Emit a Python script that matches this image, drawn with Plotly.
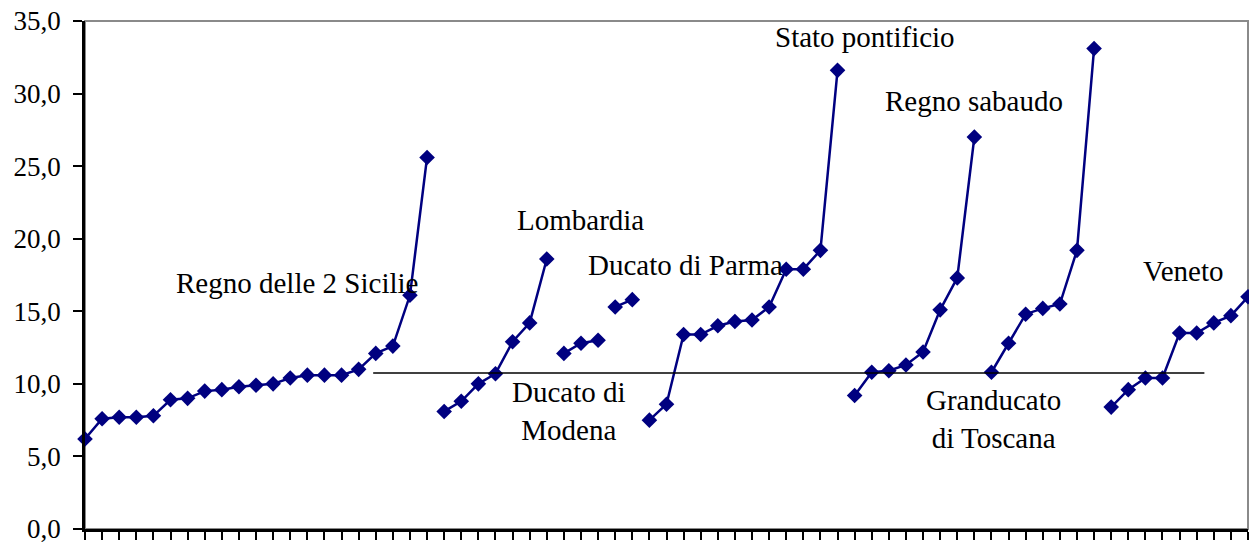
import plotly.graph_objects as go

# ---- data ----
state_labels = ["Regno delle 2 Sicilie", "Lombardia", "Ducato di<br>Modena", "Ducato di Parma",
                "Stato pontificio", "Regno sabaudo", "Granducato<br>di Toscana", "Veneto"]
regno_2_sicilie = [6.2, 7.6, 7.7, 7.7, 7.8, 8.9, 9.0, 9.5, 9.6, 9.8, 9.9, 10.0, 10.4, 10.6, 10.6,
                   10.6, 11.0, 12.1, 12.6, 16.1, 25.6]
lombardia = [8.1, 8.8, 10.0, 10.7, 12.9, 14.2, 18.6]
ducato_modena = [12.1, 12.8, 13.0]
ducato_parma = [15.3, 15.8]
stato_pontificio = [7.5, 8.6, 13.4, 13.4, 14.0, 14.3, 14.4, 15.3, 17.9, 17.9, 19.2, 31.6]
regno_sabaudo = [9.2, 10.8, 10.9, 11.3, 12.2, 15.1, 17.3, 27.0]
granducato_toscana = [10.8, 12.8, 14.8, 15.2, 15.5, 19.2, 33.1]
veneto = [8.4, 9.6, 10.4, 10.4, 13.5, 13.5, 14.2, 14.7, 16.0]
average_value = 10.75

y_tick_values = [0, 5, 10, 15, 20, 25, 30, 35]
y_tick_labels = ["0,0", "5,0", "10,0", "15,0", "20,0", "25,0", "30,0", "35,0"]

groups = [regno_2_sicilie, lombardia, ducato_modena, ducato_parma,
          stato_pontificio, regno_sabaudo, granducato_toscana, veneto]

# label placement (data coordinates: category index, value)
label_x = [12.4, 29.0, 28.3, 35.1, 45.6, 52.0, 53.1, 64.2]
label_y = [16.95, 21.3, 8.1, 18.2, 33.9, 29.5, 7.6, 17.8]

NAVY = "#000080"
fig = go.Figure()
start = 0
for vals in groups:
    xs = list(range(start, start + len(vals)))
    fig.add_trace(go.Scatter(
        x=xs, y=vals, mode="lines+markers",
        line=dict(color=NAVY, width=2.5),
        marker=dict(symbol="diamond", size=12, color=NAVY),
        cliponaxis=False, showlegend=False, hoverinfo="skip"))
    start += len(vals)
n_cat = start
cat_ticks = list(range(n_cat))

for txt, lx, ly in zip(state_labels, label_x, label_y):
    fig.add_annotation(x=lx, y=ly, xref="x", yref="y", text=txt, showarrow=False,
                       font=dict(family="Liberation Serif", size=29, color="black"),
                       xanchor="center", yanchor="middle")

# grey frame of the plot area
fig.add_shape(type="rect", xref="paper", yref="paper", x0=0, x1=1, y0=0, y1=1,
              line=dict(color="#8a8a8a", width=2), layer="below")
# reference (average) line
fig.add_shape(type="line", xref="x", yref="y", x0=16.85, x1=65.45,
              y0=average_value, y1=average_value, line=dict(color="black", width=1.5))

fig.update_layout(
    width=1249, height=543,
    margin=dict(l=85, r=1, t=21, b=14),
    paper_bgcolor="white", plot_bgcolor="white",
    showlegend=False,
    font=dict(family="Liberation Serif", color="black", size=28),
    xaxis=dict(range=[0, n_cat - 1], tickvals=cat_ticks, showticklabels=False,
               ticks="outside", ticklen=8, tickwidth=1.5, tickcolor="black",
               showline=True, linecolor="black", linewidth=2.5,
               showgrid=False, zeroline=False),
    yaxis=dict(range=[0, 35], tickvals=y_tick_values, ticktext=y_tick_labels,
               ticks="outside", ticklen=9, tickwidth=1.5, tickcolor="black",
               showline=True, linecolor="black", linewidth=2.5,
               showgrid=False, zeroline=False, ticklabelstandoff=7,
               ticklabeloverflow="allow", automargin=False,
               tickfont=dict(family="Liberation Serif", size=27, color="black")),
    xaxis2=dict(overlaying="x", anchor="y", side="bottom", range=[0, n_cat - 1],
                tickvals=cat_ticks, ticks="inside", ticklen=6, tickwidth=1.5,
                tickcolor="black", showticklabels=False, showline=False,
                showgrid=False, zeroline=False),
    yaxis2=dict(overlaying="y", anchor="x", side="left", range=[0, 35],
                tickvals=y_tick_values, ticks="inside", ticklen=8, tickwidth=1.5,
                tickcolor="black", showticklabels=False, showline=False,
                showgrid=False, zeroline=False),
)

# remove the default 8px page margin so the figure fills the window exactly
fig.write_html("out.html", config={"displayModeBar": False},
               post_script="document.body.style.margin='0';")
